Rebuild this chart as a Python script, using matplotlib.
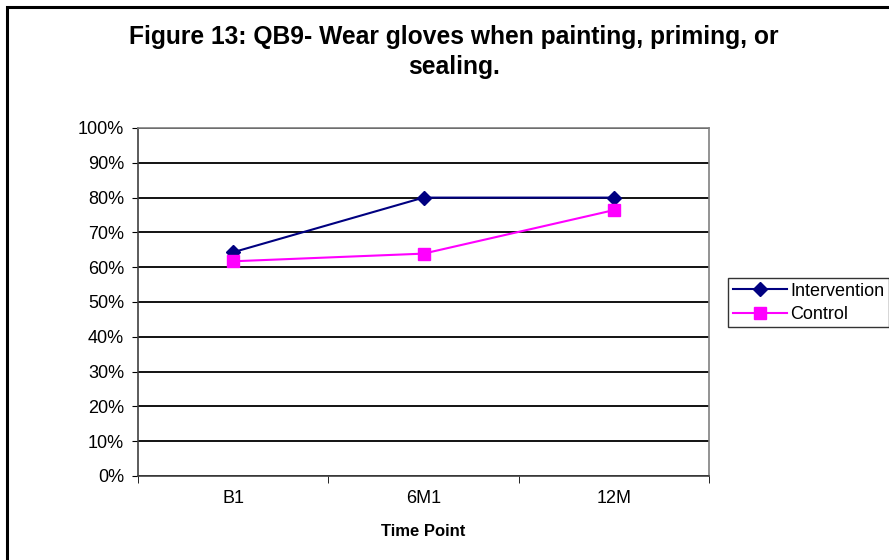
import matplotlib.pyplot as plt
from matplotlib.patches import Rectangle

plt.rcParams['font.family'] = ['Liberation Sans', 'DejaVu Sans']

time_points = ['B1', '6M1', '12M']
intervention = [64.3, 80.0, 80.0]
control = [61.7, 63.9, 76.4]
y_ticks = [0, 10, 20, 30, 40, 50, 60, 70, 80, 90, 100]

fig = plt.figure(figsize=(8.89, 5.6), dpi=100)

# outer chart frame (runs off the right and bottom edges)
fig.patches.append(Rectangle((7 / 889, -0.1), 1.2, 1 - 7 / 560 + 0.1,
                             transform=fig.transFigure, fill=False,
                             edgecolor='black', linewidth=2.2))

ax = fig.add_axes([138 / 889, 84 / 560, 571 / 889, 348 / 560])

x = range(len(time_points))
ax.plot(x, intervention, color='#000080', marker='D', markersize=7.5,
        linewidth=1.5, label='Intervention')
ax.plot(x, control, color='#FF00FF', marker='s', markersize=8.5,
        linewidth=1.5, label='Control')

ax.set_xlim(-0.5, 2.5)
ax.set_ylim(0, 100)
ax.set_yticks(y_ticks)
ax.set_yticklabels([f'{v}%' for v in y_ticks], fontsize=13)
ax.set_xticks(list(x))
ax.set_xticklabels(time_points, fontsize=13)
ax.set_xticks([-0.5, 0.5, 1.5, 2.5], minor=True)
ax.tick_params(axis='x', which='major', length=0, pad=10)
ax.tick_params(axis='x', which='minor', length=5, direction='out', color='black')
ax.tick_params(axis='y', length=4, direction='out', color='black', pad=6)

ax.grid(axis='y', color='black', linewidth=1.3)
ax.set_axisbelow(True)
for side in ['left', 'bottom']:
    ax.spines[side].set_color('#404040')
for side in ['right', 'top']:
    ax.spines[side].set_color('#808080')
for s in ax.spines.values():
    s.set_linewidth(1.2)

ax.set_xlabel('Time Point', fontsize=12, fontweight='bold', labelpad=12)

fig.text(454 / 889, 1 - 52 / 560, 'Figure 13: QB9- Wear gloves when painting, priming, or\nsealing.',
         ha='center', va='center', fontsize=17.7, fontweight='bold', linespacing=1.3)

leg = fig.legend(loc='upper left', bbox_to_anchor=(728 / 889, 1 - 278 / 560),
                 fontsize=13, frameon=True, fancybox=False, borderaxespad=0,
                 handlelength=3.0, borderpad=0.25, labelspacing=0.35, handletextpad=0.2)
leg.get_frame().set_edgecolor('black')
leg.get_frame().set_linewidth(1.0)

fig.savefig('out.png', dpi=100)
